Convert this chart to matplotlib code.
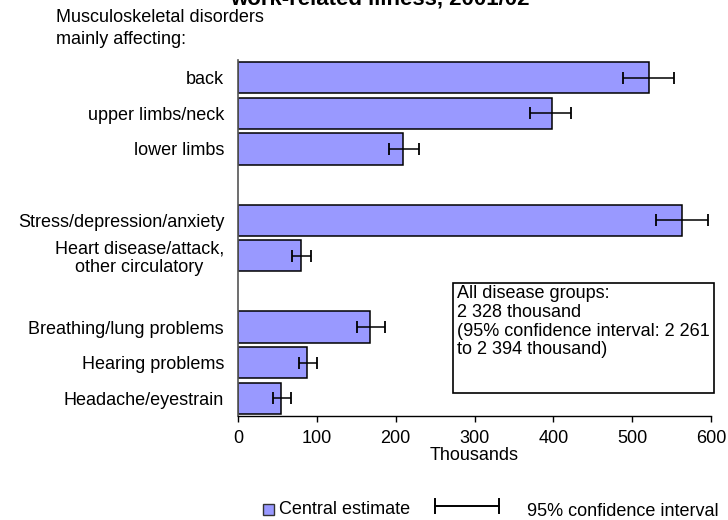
import matplotlib
matplotlib.use('Agg')
import matplotlib.pyplot as plt
from matplotlib.patches import Rectangle
from matplotlib.lines import Line2D
import numpy as np

plt.rcParams['font.family'] = ['Liberation Sans', 'DejaVu Sans']

## data (thousands)
categories = ['back', 'upper limbs/neck', 'lower limbs',
              'Stress/depression/anxiety', 'Heart disease/attack,\nother circulatory',
              'Breathing/lung problems', 'Hearing problems', 'Headache/eyestrain']
positions = [0, 1, 2, 4, 5, 7, 8, 9]
central = [521, 398, 209, 563, 80, 168, 88, 55]
ci_low = [489, 370, 192, 530, 69, 151, 77, 44]
ci_high = [553, 423, 230, 596, 93, 187, 100, 67]
xticks = [0, 100, 200, 300, 400, 500, 600]

central = np.array(central)
err = [central - np.array(ci_low), np.array(ci_high) - central]

fs = 13
fig = plt.figure(figsize=(7.28, 5.2), dpi=100)
ax = fig.add_axes([238/728, 1-416/520, 473/728, 356/520])

bar_col = '#9999ff'
ax.barh(positions, central, height=0.88, color=bar_col, edgecolor='black', linewidth=1.1, zorder=2)
ax.errorbar(central, positions, xerr=err, fmt='none', ecolor='black', elinewidth=1.1,
            capsize=4.5, capthick=1.3, zorder=3)

ax.set_ylim(9.5, -0.5)
ax.set_xlim(0, 600)
ax.set_xticks(xticks)
ax.set_xticklabels([str(t) for t in xticks], fontsize=fs)
ax.set_yticks(positions)
ax.set_yticklabels(categories, fontsize=fs, linespacing=1.1)
for lab in ax.get_yticklabels():
    lab.set_multialignment('center')
ax.tick_params(axis='y', length=0, pad=10)
ax.tick_params(axis='x', length=4, width=1, pad=6, direction='out')
ax.set_xlabel('Thousands', fontsize=fs, labelpad=0)

for s in ['top', 'right']:
    ax.spines[s].set_visible(False)
ax.spines['left'].set_color('#555555')
ax.spines['left'].set_linewidth(1.2)
ax.spines['bottom'].set_linewidth(1.0)

# summary box
ax.add_patch(Rectangle((0.4545, 0.0646), 0.552, 0.309, transform=ax.transAxes,
                       fill=False, edgecolor='black', linewidth=1.2, zorder=4, clip_on=False))
ax.text(0.463, 0.367, 'All disease groups:\n2 328 thousand\n(95% confidence interval: 2 261\nto 2 394 thousand)',
        transform=ax.transAxes, ha='left', va='top', fontsize=fs, linespacing=1.13, zorder=5)

# headings (title is cut at the top edge, as in the source)
fig.text(380/728, 1-5/520, 'work-related illness, 2001/02', ha='center', va='baseline',
         fontsize=16, fontweight='bold')
fig.text(56/728, 1-17/520, 'Musculoskeletal disorders', ha='left', va='center', fontsize=fs)
fig.text(56/728, 1-39/520, 'mainly affecting:', ha='left', va='center', fontsize=fs)

# legend
fig.patches.append(Rectangle((263/728, 1-515/520), 11/728, 11/520, transform=fig.transFigure,
                             facecolor=bar_col, edgecolor='#333333', linewidth=1))
fig.text(279/728, 1-509/520, 'Central estimate', ha='left', va='center', fontsize=fs)
fig.lines.append(Line2D([435/728, 499/728], [1-506/520, 1-506/520], transform=fig.transFigure,
                        color='black', linewidth=1.4))
for xc in [435, 499]:
    fig.lines.append(Line2D([xc/728, xc/728], [1-499/520, 1-513/520], transform=fig.transFigure,
                            color='black', linewidth=1.4))
fig.text(527/728, 1-512/520, '95% confidence interval', ha='left', va='center', fontsize=fs)

plt.savefig('out.png', dpi=100)
